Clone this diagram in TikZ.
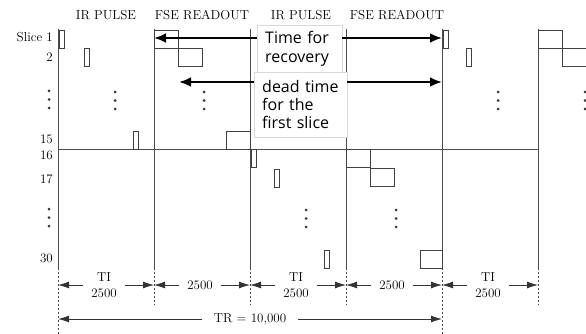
\documentclass[tikz,border=0pt]{standalone}
\usepackage{fontspec}
\newfontfamily\notefont{Open Sans}
\usetikzlibrary{arrows.meta}
\begin{document}
\begin{tikzpicture}[
        x=1pt, y=-1pt,
        lbl/.style={font=\fontsize{13}{16}\selectfont, inner sep=0pt},
        timeline/.style={black!70, line width=1pt},
        tail/.style={black!70, line width=1pt, dash pattern=on 2pt off 2pt},
        pulse/.style={draw=black!75, line width=0.9pt},
        dim/.style={black!80, line width=0.8pt, -{Latex[length=11pt,width=7pt]}},
        dimtext/.style={font=\fontsize{13}{16}\selectfont, align=center, inner xsep=8pt, inner ysep=0pt},
        note/.style={draw=black!15, fill=white, font=\notefont\fontsize{16}{18.3}\selectfont, align=left, inner xsep=8pt, inner ysep=4pt},
        bigarrow/.style={-{Latex[length=12pt,width=10pt]}, line width=2.5pt}
    ]
        \useasboundingbox (0,0) rectangle (586,334);

        % Column headings
        \node[lbl, anchor=base] (ir1) at (106,20) {IR PULSE};
        \node[lbl, anchor=base] (fse1) at (202,20) {FSE READOUT};
        \node[lbl, anchor=base] (ir2) at (301,20) {IR PULSE};
        \node[lbl, anchor=base] (fse2) at (397,20) {FSE READOUT};

        % Slice numbers
        \node[lbl, anchor=base east] (s1) at (53,42) {Slice 1};
        \node[lbl, anchor=base east] (s2) at (53,62) {2};
        \node[lbl, anchor=base east] (s15) at (53,143) {15};
        \node[lbl, anchor=base east] (s16) at (53,160) {16};
        \node[lbl, anchor=base east] (s17) at (53,183) {17};
        \node[lbl, anchor=base east] (s30) at (53,262) {30};

        % Vertical timelines
        \foreach \x/\e in {58/334, 154/305, 250/305, 346/305, 442/334, 538/305} {
            \draw[timeline] (\x,29) -- (\x,268);
            \draw[tail] (\x,268) -- (\x,\e);
        }
        \draw[timeline] (58,149) -- (538,149);

        % IR pulses
        \foreach \x/\y in {59/30, 84/48, 133/131, 251/149, 274/169, 324/250, 443/30, 466/48}
            \draw[pulse] (\x,\y) rectangle +(5,18);

        % FSE readouts
        \foreach \x/\y in {154/30, 178/48, 226/131, 346/149, 370/168, 538/30, 562/48}
            \draw[pulse] (\x,\y) rectangle +(24,18);
        \draw[pulse] (420,250) rectangle +(22,18);

        % Dots
        \foreach \x/\y in {49/91, 115/92, 204/92, 498/92, 585/92, 49/209, 306/210, 396/210}
            \foreach \d in {0,8.5,17}
                \fill[black!80] (\x,\y+\d) circle (1.5pt);

        % Interval ends
        \foreach \x [count=\i from 0] in {58,154,250,346,442,538}
            \coordinate (v\i) at (\x,285);

        % Intervals
        \node[dimtext] (ti1) at (104,285) {TI\\2500};
        \node[dimtext] (ro1) at (200,285) {2500};
        \node[dimtext] (ti2) at (296,285) {TI\\2500};
        \node[dimtext] (ro2) at (392,285) {2500};
        \node[dimtext] (ti3) at (488,285) {TI\\2500};
        \draw[dim] (ti1) -- (v0);
        \draw[dim] (ti1) -- (v1);
        \draw[dim] (ro1) -- (v1);
        \draw[dim] (ro1) -- (v2);
        \draw[dim] (ti2) -- (v2);
        \draw[dim] (ti2) -- (v3);
        \draw[dim] (ro2) -- (v3);
        \draw[dim] (ro2) -- (v4);
        \draw[dim] (ti3) -- (v4);
        \draw[dim] (ti3) -- (v5);

        % Repetition time
        \node[dimtext, inner xsep=12pt] (tr) at (250,319) {TR = 10,000};
        \draw[dim] (tr) -- (v0|-tr);
        \draw[dim] (tr) -- (v4|-tr);

        % Notes
        \node[note, anchor=north west, text width=69pt, minimum height=47pt] (rec) at (257,25) {Time for\\recovery};
        \node[note, anchor=north west, text width=77pt, minimum height=65pt] (dead) at (254,72) {dead time\\for the\\first slice};

        \coordinate (recL) at (154,38);
        \coordinate (recR) at (442,38);
        \coordinate (deadL) at (179,82);
        \coordinate (deadR) at (442,82);
        \draw[bigarrow] (rec.west|-recL) -- (recL);
        \draw[bigarrow] (rec.east|-recR) -- (recR);
        \draw[bigarrow] (dead.west|-deadL) -- (deadL);
        \draw[bigarrow] (dead.east|-deadR) -- (deadR);
    \end{tikzpicture}
\end{document}
